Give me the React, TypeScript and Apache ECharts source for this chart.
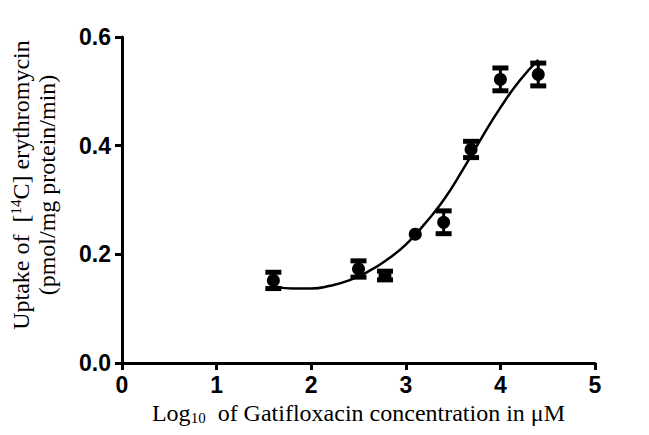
import React, { useEffect, useRef } from "react";
import * as echarts from "echarts";

const pointX = [1.6, 2.5, 2.78, 3.1, 3.4, 3.69, 4.0, 4.4];
const pointY = [0.152, 0.173, 0.161, 0.237, 0.259, 0.393, 0.522, 0.531];
const pointErr = [0.015, 0.015, 0.008, 0.0, 0.021, 0.015, 0.021, 0.021];

const curveX = [1.6, 1.8, 2.0, 2.2, 2.4, 2.6, 2.8, 3.0, 3.2, 3.4, 3.6, 3.8, 4.0, 4.2, 4.4];
const curveY = [0.142, 0.137, 0.137, 0.142, 0.152, 0.168, 0.19, 0.218, 0.256, 0.3, 0.355, 0.414, 0.47, 0.519, 0.558];

export default function App() {
  const ref = useRef<HTMLDivElement>(null);
  useEffect(() => {
    if (!ref.current) return;
    const chart = echarts.init(ref.current, undefined, { renderer: "svg" });
    const black = "#000";
    const serif = "Liberation Serif, Times New Roman, serif";
    const errData = pointX.map((x, i) => [x, pointY[i], pointErr[i]]);
    chart.setOption({
      animation: false,
      backgroundColor: "#fff",
      grid: { left: 121, right: 54, top: 37, bottom: 72, containLabel: false },
      xAxis: {
        type: "value",
        min: 0,
        max: 5,
        interval: 1,
        splitLine: { show: false },
        axisLine: { show: true, lineStyle: { color: black, width: 3 } },
        axisTick: { show: true, length: 7, lineStyle: { color: black, width: 3 } },
        axisLabel: {
          margin: 10,
          color: black,
          fontFamily: "Liberation Sans, Arial, sans-serif",
          fontWeight: "bold",
          fontSize: 23,
        },
        name: "{n|Log}{sub|10}{n|  of Gatifloxacin concentration in μM}",
        nameLocation: "middle",
        nameGap: 36,
        nameTextStyle: {
          rich: {
            n: { fontFamily: serif, fontSize: 24, color: black, lineHeight: 26 },
            sub: {
              fontFamily: serif,
              fontSize: 15,
              color: black,
              verticalAlign: "bottom",
              lineHeight: 26,
              padding: [10, 0, 0, 0],
            },
          },
        },
      },
      yAxis: {
        type: "value",
        min: 0,
        max: 0.6,
        interval: 0.2,
        splitLine: { show: false },
        axisLine: { show: true, lineStyle: { color: black, width: 3 } },
        axisTick: { show: true, length: 7, lineStyle: { color: black, width: 3 } },
        axisLabel: {
          margin: 11,
          color: black,
          fontFamily: "Liberation Sans, Arial, sans-serif",
          fontWeight: "bold",
          fontSize: 23,
          formatter: (v: number) => v.toFixed(1),
        },
        name: "{n|Uptake of  [}{sup|14}{n|C] erythromycin}\n{n|(pmol/mg protein/min)}",
        nameLocation: "middle",
        nameRotate: 90,
        nameGap: 62,
        nameTextStyle: {
          lineHeight: 26,
          padding: [0, 0, 0, 30],
          rich: {
            n: { fontFamily: serif, fontSize: 24, color: black, lineHeight: 26 },
            sup: {
              fontFamily: serif,
              fontSize: 15,
              color: black,
              verticalAlign: "top",
              lineHeight: 26,
              padding: [0, 0, 6, 0],
            },
          },
        },
      },
      series: [
        {
          type: "line",
          data: curveX.map((x, i) => [x, curveY[i]]),
          smooth: true,
          symbol: "none",
          lineStyle: { color: black, width: 2.5 },
          z: 2,
        },
        {
          type: "custom",
          data: errData,
          z: 3,
          renderItem: (params: any, api: any) => {
            const x = api.value(0);
            const y = api.value(1);
            const e = api.value(2);
            if (!e) return { type: "group", children: [] };
            const lo = api.coord([x, y - e]);
            const hi = api.coord([x, y + e]);
            const hw = 8;
            const st = { stroke: black, lineWidth: 5 };
            return {
              type: "group",
              children: [
                { type: "line", shape: { x1: lo[0], y1: lo[1], x2: hi[0], y2: hi[1] }, style: { stroke: black, lineWidth: 3 } },
                { type: "line", shape: { x1: lo[0] - hw, y1: lo[1], x2: lo[0] + hw, y2: lo[1] }, style: st },
                { type: "line", shape: { x1: hi[0] - hw, y1: hi[1], x2: hi[0] + hw, y2: hi[1] }, style: st },
              ],
            };
          },
        },
        {
          type: "scatter",
          data: pointX.map((x, i) => [x, pointY[i]]),
          symbol: "circle",
          symbolSize: 13,
          itemStyle: { color: black, opacity: 1 },
          z: 4,
        },
      ],
    });
    return () => chart.dispose();
  }, []);
  return (
    <div
      ref={ref}
      style={{ position: "fixed", left: 0, top: 0, width: 649, height: 435 }}
    />
  );
}
